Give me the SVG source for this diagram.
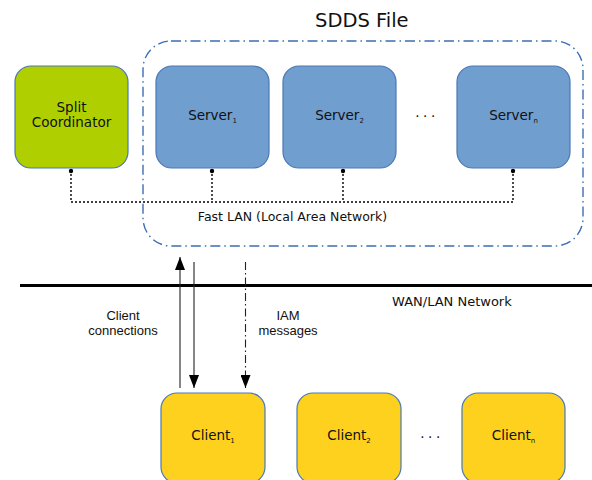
<svg xmlns="http://www.w3.org/2000/svg" width="592" height="480" viewBox="0 0 592 480">
<style>
.box{stroke:#4a78b5;stroke-width:1.2}
.coord{fill:#b0cf00}
.server{fill:#709ecf}
.client{fill:#fdd11e}
.lbl{font-family:"DejaVu Sans",sans-serif;font-size:13.5px;fill:#111;text-anchor:middle}
.sub{font-size:7px}
.note{font-family:"Liberation Sans",Arial,sans-serif;font-size:13px;fill:#111;text-anchor:middle}
.bus{fill:none;stroke:#000;stroke-width:1.4;stroke-dasharray:2,2}
.arrow{fill:none;stroke:#222;stroke-width:1.1}
</style>
<defs>
<marker id="arr" viewBox="0 0 13 10" refX="13" refY="5" markerWidth="13" markerHeight="10" markerUnits="userSpaceOnUse" orient="auto">
<path d="M0,0 L13,5 L0,10 z" fill="#000"/>
</marker>
</defs>
<rect width="592" height="480" fill="#fff"/>
<g id="sdds-file">
<rect x="143" y="41" width="440" height="205" rx="28" fill="none" stroke="#3d6db5" stroke-width="1.4" stroke-dasharray="10,4,1.5,4"/>
<text x="315" y="27" font-family="DejaVu Sans,sans-serif" font-size="19.5" fill="#111">SDDS File</text>
</g>
<g id="wan">
<line x1="20" y1="285.5" x2="592" y2="285.5" stroke="#000" stroke-width="3"/>
<text x="392" y="306" font-family="DejaVu Sans,sans-serif" font-size="13" fill="#111">WAN/LAN Network</text>
</g>
<g id="connectors">
<path class="bus" d="M71,170 V202 H513 V170 M212,170 V202 M343,170 V202"/>
<circle cx="71" cy="171" r="2.2"/>
<circle cx="212" cy="171" r="2.2"/>
<circle cx="343" cy="171" r="2.2"/>
<circle cx="513" cy="171" r="2.2"/>
<text x="292.5" y="221" font-family="DejaVu Sans,sans-serif" font-size="12.5" fill="#111" text-anchor="middle">Fast LAN (Local Area Network)</text>
<line class="arrow" x1="180" y1="388" x2="180" y2="257" marker-end="url(#arr)"/>
<line class="arrow" x1="194" y1="262" x2="194" y2="388" marker-end="url(#arr)"/>
<line class="arrow" x1="245.5" y1="262" x2="245.5" y2="388" stroke-dasharray="8,3,1.5,3" marker-end="url(#arr)"/>
<text class="note" x="123" y="320">Client</text>
<text class="note" x="123" y="335">connections</text>
<text class="note" x="288" y="320">IAM</text>
<text class="note" x="288" y="335">messages</text>
</g>
<g id="split-coordinator">
<rect class="box coord" x="15" y="66" width="113" height="102" rx="16"/>
<text class="lbl" x="71.5" y="112">Split</text>
<text class="lbl" x="71.5" y="127">Coordinator</text>
</g>
<g id="server1">
<rect class="box server" x="156" y="66" width="113" height="102" rx="16"/>
<text class="lbl" x="212.5" y="120">Server<tspan class="sub" dy="3">1</tspan></text>
</g>
<g id="server2">
<rect class="box server" x="283" y="66" width="113" height="102" rx="16"/>
<text class="lbl" x="339.5" y="120">Server<tspan class="sub" dy="3">2</tspan></text>
</g>
<g id="server-dots">
<text class="lbl" x="427" y="117" letter-spacing="3.5">...</text>
</g>
<g id="servern">
<rect class="box server" x="457" y="66" width="113" height="102" rx="16"/>
<text class="lbl" x="513.5" y="120">Server<tspan class="sub" dy="3">n</tspan></text>
</g>
<g id="client1">
<rect class="box client" x="161" y="393" width="104" height="90" rx="16"/>
<text class="lbl" x="213" y="440">Client<tspan class="sub" dy="3">1</tspan></text>
</g>
<g id="client2">
<rect class="box client" x="297" y="393" width="104" height="90" rx="16"/>
<text class="lbl" x="349" y="440">Client<tspan class="sub" dy="3">2</tspan></text>
</g>
<g id="client-dots">
<text class="lbl" x="432" y="438" letter-spacing="3.5">...</text>
</g>
<g id="clientn">
<rect class="box client" x="462" y="393" width="103" height="90" rx="16"/>
<text class="lbl" x="513.5" y="440">Client<tspan class="sub" dy="3">n</tspan></text>
</g>
</svg>
